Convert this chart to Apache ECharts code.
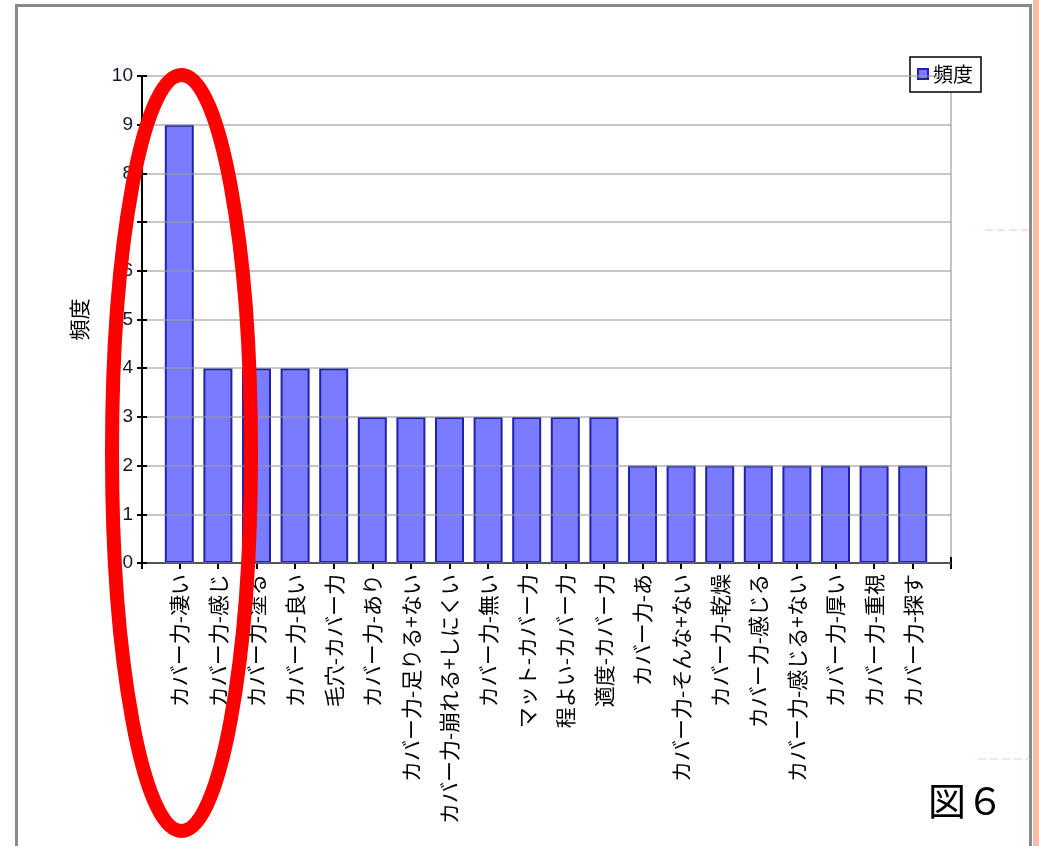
<!DOCTYPE html>
<html>
<head>
<meta charset="utf-8">
<script src="https://cdn.jsdelivr.net/npm/echarts@6/dist/echarts.min.js"></script>
<style>
html,body{margin:0;padding:0;background:#fff;}
#chart{width:1039px;height:846px;}
</style>
</head>
<body>
<div id="chart"></div>
<script>
const categories = [
  'カバー力-凄い', 'カバー力-感じ', 'カバー力-塗る', 'カバー力-良い', '毛穴-カバー力',
  'カバー力-あり', 'カバー力-足りる+ない', 'カバー力-崩れる+しにくい', 'カバー力-無い', 'マット-カバー力',
  '程よい-カバー力', '適度-カバー力', 'カバー力-あ', 'カバー力-そんな+ない', 'カバー力-乾燥',
  'カバー力-感じる', 'カバー力-感じる+ない', 'カバー力-厚い', 'カバー力-重視', 'カバー力-探す'
];
const frequency = [9, 4, 4, 4, 4, 3, 3, 3, 3, 3, 3, 3, 2, 2, 2, 2, 2, 2, 2, 2];
const seriesName = '頻度';
const yMin = 0, yMax = 10, yStep = 1;
const figureLabel = '図６';

const jp = '"Noto Sans CJK JP", "Noto Sans", sans-serif';
const num = '"Liberation Sans", Arial, sans-serif';

const chart = echarts.init(document.getElementById('chart'), null, {renderer: 'canvas'});
chart.setOption({
  animation: false,
  backgroundColor: '#fff',
  grid: [
    {left: 142, right: 88, top: 76, bottom: 283},
    {left: 160, right: 107, top: 76, bottom: 283}
  ],
  legend: {
    data: [seriesName],
    left: 910, top: 57,
    padding: [7, 8, 8, 7],
    borderColor: '#000', borderWidth: 1.5,
    backgroundColor: '#fff',
    itemWidth: 10, itemHeight: 10,
    icon: 'rect',
    textStyle: {fontFamily: jp, fontSize: 20, color: '#000'}
  },
  xAxis: [
    {gridIndex: 0, type: 'value', position: 'bottom', min: 0, max: 1, interval: 1,
     axisLabel: {show: false},
     axisLine: {show: true, lineStyle: {color: '#000', width: 2}},
     axisTick: {show: true, length: 6, lineStyle: {color: '#000', width: 2}},
     splitLine: {show: true, lineStyle: {color: '#c4c4c4', width: 2}}},
    {gridIndex: 0, type: 'value', position: 'bottom', min: 0, max: 1, interval: 1,
     axisLabel: {show: false}, axisLine: {show: false}, splitLine: {show: false},
     axisTick: {show: true, inside: true, length: 6, lineStyle: {color: '#000', width: 2}}},
    {gridIndex: 1, type: 'category', position: 'bottom', data: categories,
     axisLine: {show: false},
     axisTick: {show: true, interval: 0, alignWithLabel: true, length: 6, lineStyle: {color: '#000', width: 2}},
     axisLabel: {interval: 0, rotate: 90, margin: 11, fontFamily: jp, fontSize: 21, color: '#000'}},
    {gridIndex: 1, type: 'category', position: 'bottom', data: categories,
     axisLine: {show: false}, axisLabel: {show: false},
     axisTick: {show: true, interval: 0, inside: true, alignWithLabel: true, length: 6, lineStyle: {color: '#000', width: 2}}}
  ],
  yAxis: [
    {gridIndex: 0, type: 'value', position: 'left', min: yMin, max: yMax, interval: yStep, z: 5,
     name: seriesName, nameLocation: 'middle', nameGap: 52, nameRotate: 90,
     nameTextStyle: {fontFamily: jp, fontSize: 21, color: '#000'},
     axisLine: {show: true, lineStyle: {color: '#000', width: 2}},
     axisTick: {show: true, length: 5, lineStyle: {color: '#000', width: 2}},
     axisLabel: {margin: 9, fontFamily: num, fontSize: 19, color: '#141432'},
     splitLine: {show: true, lineStyle: {color: '#999', width: 2, opacity: 0.55}}},
    {gridIndex: 0, type: 'value', position: 'left', min: yMin, max: yMax, interval: yStep, z: 5,
     axisLine: {show: false}, axisLabel: {show: false}, splitLine: {show: false},
     axisTick: {show: true, inside: true, length: 5, lineStyle: {color: '#000', width: 2}}},
    {gridIndex: 1, type: 'value', min: yMin, max: yMax, interval: yStep, show: false,
     splitLine: {show: false}}
  ],
  series: [{
    name: seriesName, type: 'bar',
    xAxisIndex: 2, yAxisIndex: 2,
    data: frequency,
    barWidth: 29,
    itemStyle: {color: '#7b7bff', borderColor: '#2222a8', borderWidth: 2}
  }],
  graphic: [
    {type: 'rect', z: 100, shape: {x: 16.5, y: 5.5, width: 1014, height: 845},
     style: {fill: 'none', stroke: '#8a8a8a', lineWidth: 3}},
    {type: 'rect', z: 100, shape: {x: 1033, y: 0, width: 6, height: 846},
     style: {fill: '#f6bea6'}},
    {type: 'line', z: 100, shape: {x1: 978, y1: 759, x2: 1030, y2: 759},
     style: {stroke: '#f3c8b8', lineWidth: 1, lineDash: [8, 4]}},
    {type: 'line', z: 100, shape: {x1: 985, y1: 230, x2: 1030, y2: 230},
     style: {stroke: '#f3c8b8', lineWidth: 1, lineDash: [8, 4]}},
    {type: 'ellipse', z: 110, shape: {cx: 181.5, cy: 453, rx: 69.5, ry: 378},
     style: {fill: 'none', stroke: '#ff0000', lineWidth: 14}},
    {type: 'text', z: 110, left: 928, top: 782,
     style: {text: figureLabel, fontFamily: jp, fontSize: 38, fill: '#000'}}
  ]
});
</script>
</body>
</html>
